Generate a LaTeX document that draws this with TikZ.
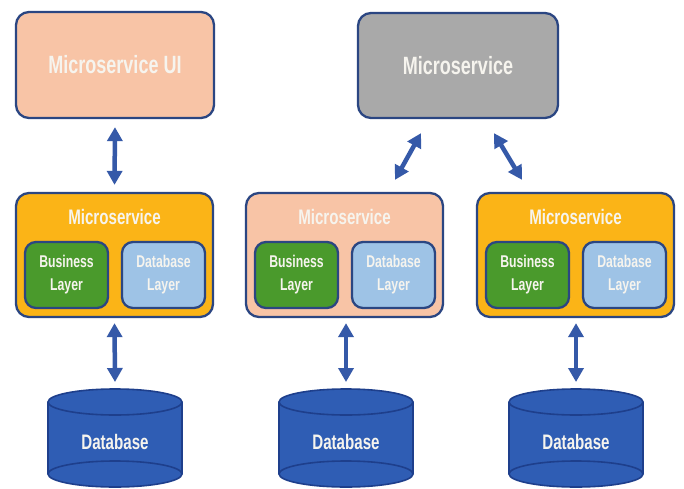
\documentclass[tikz,border=0pt]{standalone}
\usepackage{fontspec}
\setmainfont{Liberation Sans}[FakeStretch=0.72,UprightFont=* Bold]
\usetikzlibrary{arrows.meta,calc}
\definecolor{salmon}{HTML}{F8C4A6}
\definecolor{grayb}{HTML}{A9A9A9}
\definecolor{orangeb}{HTML}{FBB417}
\definecolor{greenb}{HTML}{4A9A2C}
\definecolor{blueb}{HTML}{9EC3E6}
\definecolor{navy}{HTML}{2B4682}
\definecolor{dbfill}{HTML}{2F5DB4}
\definecolor{dbline}{HTML}{1E3F8C}
\definecolor{arrowc}{HTML}{3559A8}
\definecolor{txt}{HTML}{F6F4EE}
\tikzset{
  bigbox/.style={draw=navy, line width=2.3pt, rounded corners=13pt, minimum width=198pt, minimum height=106pt, inner sep=0pt, text=txt, font=\fontsize{25}{30}\selectfont},
  msbox/.style={draw=navy, line width=2.3pt, rounded corners=13pt, minimum width=197pt, minimum height=124pt, inner sep=0pt},
  layerbox/.style={draw=navy, line width=2.3pt, rounded corners=11pt, minimum width=83pt, minimum height=66pt, inner sep=0pt, text=txt, align=center, font=\fontsize{17}{23}\selectfont},
  mslabel/.style={text=txt, inner sep=0pt, font=\fontsize{21}{25}\selectfont},
  dbtext/.style={text=txt, inner sep=0pt, font=\fontsize{21}{25}\selectfont},
  dbl/.style={draw=arrowc, line width=4.5pt, {Triangle[width=15pt,length=14pt]}-{Triangle[width=15pt,length=14pt]}},
}
\begin{document}
\begin{tikzpicture}[x=1pt,y=1pt]
\useasboundingbox[fill=white] (0,0) rectangle (684,488);
% top row
\node[bigbox, fill=salmon] (ui) at (115,423) {Microservice UI};
\node[bigbox, fill=grayb, minimum width=200pt, minimum height=105pt] (top) at (458,422.5) {Microservice};
% microservice boxes
\node[msbox, fill=orangeb] (ms1) at (114.5,233) {};
\node[msbox, fill=salmon]  (ms2) at (344.5,233) {};
\node[msbox, fill=orangeb] (ms3) at (575.5,233) {};
\foreach \m in {ms1,ms2,ms3}{
  \node[mslabel] (\m lab) at ($(\m.center)+(0,38)$) {Microservice};
  \node[layerbox, fill=greenb] (\m bl) at ($(\m.center)+(-48,-20)$) {Business\\Layer};
  \node[layerbox, fill=blueb]  (\m dl) at ($(\m.center)+(49,-20)$) {Database\\Layer};
}
% databases
\foreach \i/\x in {1/115,2/346,3/576}{
  \fill[dbfill] (\x-67,86) -- (\x-67,14) arc[start angle=180,end angle=360,x radius=67pt,y radius=13pt] -- (\x+67,86) arc[start angle=0,end angle=180,x radius=67pt,y radius=13pt] -- cycle;
  \draw[dbline, line width=1.6pt] (\x-67,86) -- (\x-67,14) arc[start angle=180,end angle=360,x radius=67pt,y radius=13pt] -- (\x+67,86);
  \draw[dbline, line width=1.6pt] (\x,86) ellipse[x radius=67pt,y radius=13pt];
  \draw[dbline, line width=1.6pt] (\x-67,14) arc[start angle=180,end angle=0,x radius=67pt,y radius=13pt];
  \coordinate (c\i) at (\x,99);
  \node[dbtext] (db\i) at (\x,46) {Database};
}
% connectors
\draw[dbl] ([yshift=-8pt]ui.south) -- ([yshift=7pt]ms1.north);
\draw[dbl] ($(top.south)+(-37,-14)$) -- ($(ms2.north)+(50.5,12)$);
\draw[dbl] ($(top.south)+(36,-14)$) -- ($(ms3.north)+(-53.5,12)$);
\draw[dbl] ([yshift=-5pt]ms1.south) -- ([yshift=7pt]c1);
\draw[dbl] ([xshift=1.5pt,yshift=-5pt]ms2.south) -- ([yshift=7pt]c2);
\draw[dbl] ([xshift=0.5pt,yshift=-5pt]ms3.south) -- ([yshift=7pt]c3);
\end{tikzpicture}
\end{document}
